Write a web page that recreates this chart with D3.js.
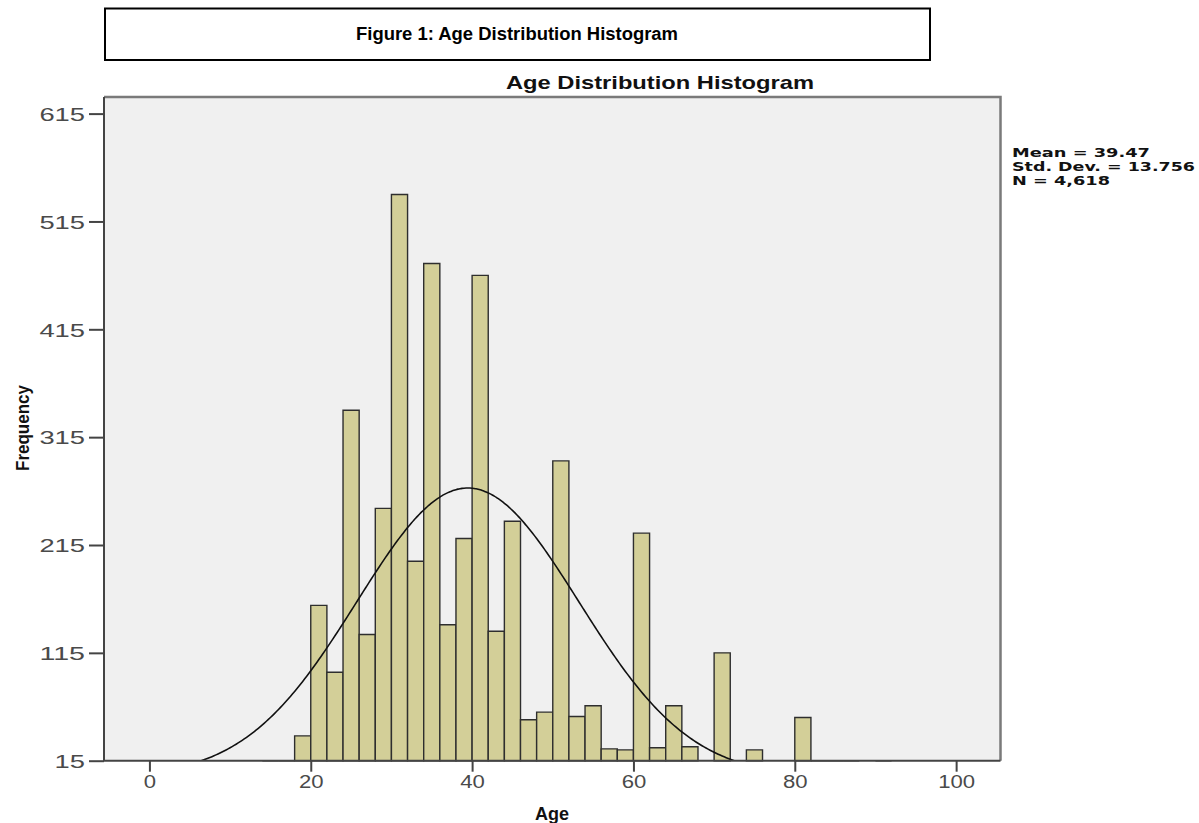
<!DOCTYPE html>
<html>
<head>
<meta charset="utf-8">
<script src="https://cdn.jsdelivr.net/npm/d3@7/dist/d3.min.js"></script>
<style>
  html, body { margin: 0; padding: 0; background: #ffffff; }
  svg { display: block; }
</style>
</head>
<body>
<svg id="chart" width="1199" height="823"></svg>
<script>
// ---------- data ----------
const binStarts = [14,16,18,20,22,24,26,28,30,32,34,36,38,40,42,44,46,48,50,52,54,56,58,60,62,64,66,68,70,72,74,76,78,80,82,84,86,88,90];
const counts    = [ 4, 6,38,159,97,340,132,249,540,200,476,141,221,465,135,237,53,60,293,56,66,26,25,226,27,66,28, 0,115, 0,25, 0, 0,55, 8, 5, 4, 0, 3];
const binWidth = 2;
const yTicks = [15,115,215,315,415,515,615];
const xTicks = [0,20,40,60,80,100];
const statLines = ["Mean = 39.47", "Std. Dev. = 13.756", "N = 4,618"];
const meanAge = 39.47, sdAge = 13.756, nTotal = 4618;
const figureCaption = "Figure 1: Age Distribution Histogram";
const chartTitle = "Age Distribution Histogram";
const xLabel = "Age", yLabel = "Frequency";

// ---------- layout ----------
const svg = d3.select("#chart");
const plot = {left: 104, right: 1000.5, top: 97, bottom: 760.7};
const x = d3.scaleLinear().domain([-5.63, 105.5]).range([plot.left, plot.right]);
const y = d3.scaleLinear().domain([15, 630.4]).range([plot.bottom, plot.top]);

// figure caption box
svg.append("rect").attr("x", 105).attr("y", 8.5).attr("width", 825).attr("height", 51.5)
  .attr("fill", "#fff").attr("stroke", "#000").attr("stroke-width", 2);
svg.append("text").attr("x", 517).attr("y", 40).attr("text-anchor", "middle")
  .attr("font-family", "Liberation Sans Narrow, Arial Narrow, sans-serif")
  .attr("font-weight", "bold").attr("font-size", 18)
  .attr("textLength", 322).attr("lengthAdjust", "spacingAndGlyphs")
  .text(figureCaption);

// chart title
svg.append("text").attr("x", 660).attr("y", 89).attr("text-anchor", "middle")
  .attr("font-family", "Liberation Sans, Arial, sans-serif")
  .attr("font-weight", "bold").attr("font-size", 19).attr("fill", "#111")
  .attr("textLength", 308).attr("lengthAdjust", "spacingAndGlyphs")
  .text(chartTitle);

// plot background
svg.append("rect").attr("x", plot.left).attr("y", plot.top)
  .attr("width", plot.right - plot.left).attr("height", plot.bottom - plot.top)
  .attr("fill", "#f0f0f0");

svg.append("clipPath").attr("id", "clip").append("rect")
  .attr("x", plot.left).attr("y", plot.top)
  .attr("width", plot.right - plot.left).attr("height", plot.bottom - plot.top);

// bars
const bars = binStarts.map((s, i) => ({s, v: counts[i]})).filter(d => d.v > 0);
const gBars = svg.append("g");
gBars.selectAll("path.bar").data(bars).join("path")
  .attr("class", "bar")
  .attr("d", d => {
    const x0 = x(d.s), x1 = x(d.s + binWidth);
    const yb = y(15), yt = y(Math.max(15, d.v));
    return `M${x0},${yb}V${yt}H${x1}V${yb}Z`;
  })
  .attr("fill", "#d3cf98")
  .attr("stroke", "#2e2e2e")
  .attr("stroke-width", 1.4)
  .attr("stroke-linejoin", "miter");

// normal curve
const peak = nTotal * binWidth / (sdAge * Math.sqrt(2 * Math.PI));
const curvePts = d3.range(-6, 106, 0.25).map(a => [a, peak * Math.exp(-0.5 * Math.pow((a - meanAge) / sdAge, 2))]);
svg.append("path").datum(curvePts)
  .attr("clip-path", "url(#clip)")
  .attr("d", d3.line().x(d => x(d[0])).y(d => y(d[1])).curve(d3.curveBasis))
  .attr("fill", "none").attr("stroke", "#111").attr("stroke-width", 1.6);

// frame
svg.append("path")
  .attr("d", `M${plot.left},${plot.top}H${plot.right}V${plot.bottom}`)
  .attr("fill", "none").attr("stroke", "#7a7a7a").attr("stroke-width", 2.5);
svg.append("path")
  .attr("d", `M${plot.left},${plot.top}V${plot.bottom}H${plot.right}`)
  .attr("fill", "none").attr("stroke", "#444").attr("stroke-width", 2);

// axes
const yAxis = svg.append("g").attr("transform", `translate(${plot.left},0)`)
  .call(d3.axisLeft(y).tickValues(yTicks).tickSize(15).tickPadding(4).tickFormat(d3.format("d")));
const xAxis = svg.append("g").attr("transform", `translate(0,${plot.bottom})`)
  .call(d3.axisBottom(x).tickValues(xTicks).tickSize(11).tickPadding(4).tickFormat(d3.format("d")));
[yAxis, xAxis].forEach(g => {
  g.select(".domain").remove();
  g.selectAll(".tick line").attr("stroke", "#444").attr("stroke-width", 2);
  g.selectAll(".tick text").attr("font-family", "Liberation Sans, Arial, sans-serif")
    .attr("fill", "#4a4a4a").attr("lengthAdjust", "spacingAndGlyphs");
});
yAxis.selectAll(".tick text").attr("font-size", 19).attr("dy", "0.36em")
  .attr("textLength", d => String(d).length * 15.2);
xAxis.selectAll(".tick text").attr("font-size", 17.5)
  .attr("textLength", d => String(d).length * 12.3);

// axis titles
svg.append("text").attr("x", 552).attr("y", 820).attr("text-anchor", "middle")
  .attr("font-family", "Liberation Sans, Arial, sans-serif")
  .attr("font-weight", "bold").attr("font-size", 18).attr("fill", "#111")
  .text(xLabel);
svg.append("text").attr("transform", "translate(29,428) rotate(-90)").attr("text-anchor", "middle")
  .attr("font-family", "Liberation Sans Narrow, Arial Narrow, sans-serif")
  .attr("font-weight", "bold").attr("font-size", 19).attr("fill", "#111")
  .attr("textLength", 86).attr("lengthAdjust", "spacingAndGlyphs")
  .text(yLabel);

// stats
const statWidths = [138, 183, 98];
svg.append("g").selectAll("text").data(statLines).join("text")
  .attr("x", 1012).attr("y", (d, i) => 157 + i * 14)
  .attr("font-family", "DejaVu Sans, sans-serif")
  .attr("font-weight", "bold").attr("font-size", 12.5).attr("fill", "#111")
  .attr("textLength", (d, i) => statWidths[i]).attr("lengthAdjust", "spacingAndGlyphs")
  .text(d => d);
</script>
</body>
</html>
